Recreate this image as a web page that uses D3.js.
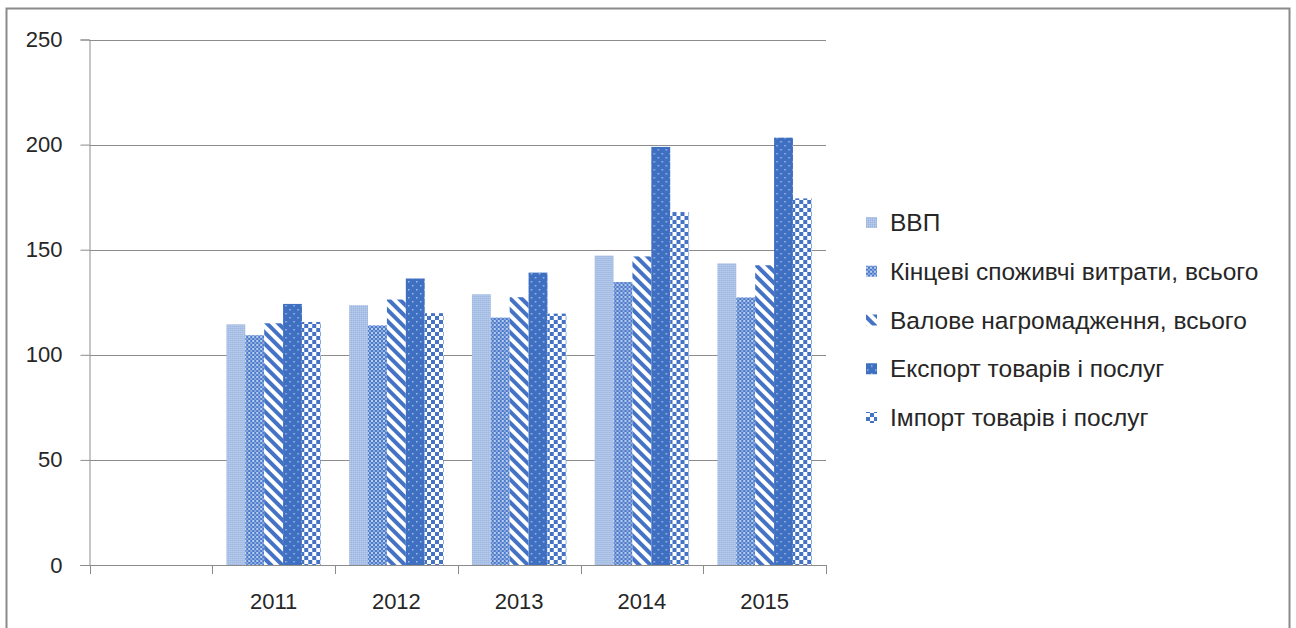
<!DOCTYPE html>
<html>
<head>
<meta charset="utf-8">
<script src="https://cdn.jsdelivr.net/npm/d3@7"></script>
<style>
  html, body { margin: 0; padding: 0; background: #fff; }
  svg { display: block; }
  text { font-family: "Liberation Sans", Arial, sans-serif; fill: #262626; }
</style>
</head>
<body>
<svg id="chart" width="1296" height="628"></svg>
<script>
// Categories (the first slot is left empty, as in the source workbook)
const categories = ["", "2011", "2012", "2013", "2014", "2015"];
const seriesNames = [
  "ВВП",
  "Кінцеві споживчі витрати, всього",
  "Валове нагромадження, всього",
  "Експорт товарів і послуг",
  "Імпорт товарів і послуг"
];
// Index values per year, one array per series
const gdp         = [null, 114.5, 123.6, 128.8, 147.2, 143.5];
const consumption = [null, 109.3, 114.0, 117.7, 134.6, 127.3];
const investment  = [null, 115.0, 126.3, 127.4, 146.8, 142.6];
const exports     = [null, 124.2, 136.3, 139.1, 198.9, 203.3];
const imports     = [null, 115.6, 119.8, 119.6, 167.9, 174.4];
const yTicks = [0, 50, 100, 150, 200, 250];

const seriesValues = [gdp, consumption, investment, exports, imports];

const svg = d3.select("#chart");

// Outer chart frame
svg.append("rect")
  .attr("x", 6.5).attr("y", 8.5)
  .attr("width", 1283).attr("height", 640)
  .attr("fill", "#fff").attr("stroke", "#8a8a8a").attr("stroke-width", 2);

// Fill patterns for the five series
const defs = svg.append("defs");

// ВВП: pale blue with a fine grain
const p0 = defs.append("pattern").attr("id", "pat0").attr("patternUnits", "userSpaceOnUse")
  .attr("width", 2).attr("height", 2);
p0.append("rect").attr("width", 2).attr("height", 2).attr("fill", "#abc2e6");
p0.append("rect").attr("width", 1).attr("height", 1).attr("fill", "#9db5de");
p0.append("rect").attr("x", 1).attr("y", 1).attr("width", 1).attr("height", 1).attr("fill", "#b8cdee");

// Кінцеві споживчі витрати: small blue mesh
const p1 = defs.append("pattern").attr("id", "pat1").attr("patternUnits", "userSpaceOnUse")
  .attr("width", 4).attr("height", 4);
p1.append("rect").attr("width", 4).attr("height", 4).attr("fill", "#4d7bcb");
p1.append("rect").attr("x", 0).attr("y", 0).attr("width", 2).attr("height", 2).attr("fill", "#b9cdee");
p1.append("rect").attr("x", 2).attr("y", 2).attr("width", 2).attr("height", 2).attr("fill", "#8eabdf");

// Валове нагромадження: wide diagonal stripes
const p2 = defs.append("pattern").attr("id", "pat2").attr("patternUnits", "userSpaceOnUse")
  .attr("width", 8).attr("height", 8).attr("patternTransform", "rotate(-45)");
p2.append("rect").attr("width", 8).attr("height", 8).attr("fill", "#ffffff");
p2.append("rect").attr("x", 0).attr("y", 0).attr("width", 4).attr("height", 8).attr("fill", "#4472c4");

// Експорт: solid blue with sparse light dots
const p3 = defs.append("pattern").attr("id", "pat3").attr("patternUnits", "userSpaceOnUse")
  .attr("width", 8).attr("height", 8);
p3.append("rect").attr("width", 8).attr("height", 8).attr("fill", "#3f6fc1");
p3.append("rect").attr("x", 1).attr("y", 1).attr("width", 1.5).attr("height", 1.5).attr("fill", "#9fbbe8");
p3.append("rect").attr("x", 5).attr("y", 5).attr("width", 1.5).attr("height", 1.5).attr("fill", "#9fbbe8");

// Імпорт: checkerboard
const p4 = defs.append("pattern").attr("id", "pat4").attr("patternUnits", "userSpaceOnUse")
  .attr("width", 8).attr("height", 8);
p4.append("rect").attr("width", 8).attr("height", 8).attr("fill", "#ffffff");
p4.append("rect").attr("x", 0).attr("y", 0).attr("width", 4).attr("height", 4).attr("fill", "#4472c4");
p4.append("rect").attr("x", 4).attr("y", 4).attr("width", 4).attr("height", 4).attr("fill", "#4472c4");

const fills = ["url(#pat0)", "url(#pat1)", "url(#pat2)", "url(#pat3)", "url(#pat4)"];

// Plot area
const plot = { left: 89.5, right: 826, top: 39.5, bottom: 565 };

const x = d3.scaleBand().domain(categories).range([plot.left, plot.right])
  .paddingInner(0).paddingOuter(0);
const xs = d3.scaleBand().domain(seriesNames).range([0, x.bandwidth()])
  .paddingInner(0).paddingOuter(0.75);
const y = d3.scaleLinear().domain([0, 250]).range([plot.bottom, plot.top]);

const gridColor = "#8c8c8c";

// Horizontal gridlines
svg.append("g").selectAll("line")
  .data(yTicks.filter(d => d > 0))
  .join("line")
  .attr("x1", plot.left).attr("x2", plot.right)
  .attr("y1", d => Math.round(y(d)) + 0.5).attr("y2", d => Math.round(y(d)) + 0.5)
  .attr("stroke", gridColor).attr("stroke-width", 1);

// Y axis
const yAxis = svg.append("g")
  .attr("transform", `translate(${plot.left},0)`)
  .call(d3.axisLeft(y).tickValues(yTicks).tickSize(9).tickPadding(18).tickFormat(d3.format("d")));
yAxis.select(".domain").attr("stroke", gridColor);
yAxis.selectAll(".tick line").attr("stroke", gridColor);
yAxis.selectAll(".tick text")
  .style("font-family", '"Liberation Sans", Arial, sans-serif')
  .style("font-size", "22px").attr("fill", "#262626");

// X axis (ticks at category boundaries)
const boundaries = categories.map(c => x(c)).concat([plot.right]);
const xAxisG = svg.append("g");
xAxisG.append("line")
  .attr("x1", plot.left - 9).attr("x2", plot.right)
  .attr("y1", plot.bottom + 0.5).attr("y2", plot.bottom + 0.5)
  .attr("stroke", gridColor);
xAxisG.selectAll("line.tick")
  .data(boundaries)
  .join("line").attr("class", "tick")
  .attr("x1", d => Math.round(d) + 0.5).attr("x2", d => Math.round(d) + 0.5)
  .attr("y1", plot.bottom).attr("y2", plot.bottom + 9)
  .attr("stroke", gridColor);
xAxisG.selectAll("text")
  .data(categories)
  .join("text")
  .attr("x", d => x(d) + x.bandwidth() / 2)
  .attr("y", 609)
  .attr("text-anchor", "middle")
  .style("font-size", "22px")
  .text(d => d);

// Bars
const groups = svg.append("g").selectAll("g")
  .data(categories)
  .join("g")
  .attr("transform", d => `translate(${x(d)},0)`);

groups.selectAll("rect")
  .data((c, ci) => seriesNames.map((s, si) => ({ s, si, v: seriesValues[si][ci] })).filter(d => d.v != null))
  .join("rect")
  .attr("x", d => xs(d.s))
  .attr("width", xs.bandwidth())
  .attr("y", d => y(d.v))
  .attr("height", d => y(0) - y(d.v))
  .attr("fill", d => fills[d.si]);

// Legend
const legend = svg.append("g").attr("transform", "translate(866,0)");
const legendY = d3.scalePoint().domain(seriesNames).range([222, 417]);
const items = legend.selectAll("g").data(seriesNames).join("g")
  .attr("transform", d => `translate(0,${legendY(d)})`);
items.append("rect")
  .attr("x", 0).attr("y", -5).attr("width", 11).attr("height", 11)
  .attr("fill", (d, i) => fills[i]);
items.append("text")
  .attr("x", 24).attr("y", 9)
  .style("font-size", "24.5px")
  .text(d => d);
</script>
</body>
</html>
